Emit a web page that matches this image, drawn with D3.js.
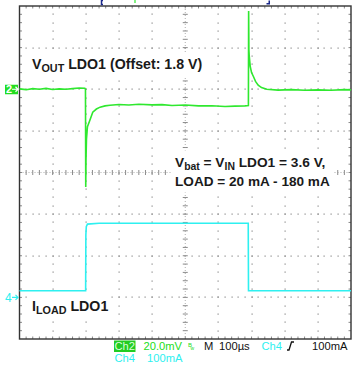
<!DOCTYPE html>
<html>
<head>
<meta charset="utf-8">
<script src="https://cdn.jsdelivr.net/npm/d3@7"></script>
<style>
  body { margin: 0; background: #fff; }
  text { font-family: "Liberation Sans", Arial, sans-serif; }
</style>
</head>
<body>
<script>
// Ch2 (Vout LDO1, ac part around 1.8 V offset) - time in us, value in mV
var vout_time = [0, 20, 40, 60, 80, 100, 120, 140, 160, 180, 197, 199, 199.8, 200.6, 202, 205, 212, 221, 232, 243, 258, 273,
                 300, 330, 360, 400, 430, 460, 500, 540, 580, 620, 650, 680, 690.5,
                 691.2, 692, 693, 696, 700, 706, 712, 720, 730, 746, 780, 820, 860, 900, 940, 980, 1000];
var vout_mv   = [0.2, -0.2, 0.3, 0.0, 0.4, -0.1, 0.2, 0.0, 0.3, 0.6, 0.5, 0.0, -47, -34, -24, -18, -15, -11, -9.5, -8.6, -8.0, -7.7,
                 -7.3, -7.6, -7.2, -7.5, -7.4, -7.8, -7.6, -8.0, -7.9, -8.3, -8.1, -8.0, -7.8,
                 37.6, 19, 16, 11, 8, 6, 3.8, 2.0, 0.8, 0.0, -0.4, -0.2, -0.5, -0.3, -0.5, -0.2, -0.3];

// Ch4 (load current) - time in us, value in mA
var iload_time = [0, 199.5, 200.2, 201.5, 205, 240, 690, 690.8, 1000];
var iload_ma   = [16, 16, 150, 170, 176, 178, 178, 16, 16];

// scope settings
var time_per_div = 100;     // us
var ch2_per_div = 20;       // mV
var ch4_per_div = 100;      // mA
var ch2_pos = 2, ch4_pos = -3;   // divisions from screen center

function draw_scope() {
    var x_divs = 10, y_divs = 8, minor = 5;

    var width = 354, height = 371;
    var p_left = 19.5, p_right = 351, p_top = 6, p_bottom = 339;

    var green = '#2fe82f', cyan = '#2ef0f0';

    var svg = d3.select('body').append('svg').attr('width', width).attr('height', height);

    var x_scale = d3.scaleLinear().domain([0, x_divs * time_per_div]).range([p_left, p_right]);
    var div_scale = d3.scaleLinear().domain([-y_divs / 2, y_divs / 2]).range([p_bottom, p_top]);
    var xdiv_scale = d3.scaleLinear().domain([0, x_divs]).range([p_left, p_right]);

    // ---- graticule ----
    var grid = svg.append('g').attr('class', 'grid');
    var dots = [];
    // vertical dotted lines
    for (var i = 1; i < x_divs; i++) {
        if (i == x_divs / 2) continue;
        for (var k = 1; k < y_divs * minor; k++)
            dots.push([xdiv_scale(i), div_scale(-y_divs / 2 + k / minor)]);
    }
    // horizontal dotted lines
    for (var j = -y_divs / 2 + 1; j < y_divs / 2; j++) {
        if (j == 0) continue;
        for (var k = 1; k < x_divs * minor; k++)
            dots.push([xdiv_scale(k / minor), div_scale(j)]);
    }
    grid.selectAll('rect.dot').data(dots).enter().append('rect')
        .attr('class', 'dot')
        .attr('x', d => Math.round(d[0]) - 0.5).attr('y', d => Math.round(d[1]) - 0.5)
        .attr('width', 1.2).attr('height', 1.2).attr('fill', '#8a8a8a');

    // center axes with cross ticks, border ticks
    var cx = xdiv_scale(x_divs / 2), cy = div_scale(0);
    var ticks = [];
    for (var k = 1; k < x_divs * minor; k++) {
        var tx = xdiv_scale(k / minor);
        ticks.push([tx, cy - 2.5, tx, cy + 2.5]);
        ticks.push([tx, p_top, tx, p_top + 2.5]);
        ticks.push([tx, p_bottom - 2.5, tx, p_bottom]);
    }
    for (var k = 1; k < y_divs * minor; k++) {
        var ty = div_scale(-y_divs / 2 + k / minor);
        ticks.push([cx - 2.5, ty, cx + 2.5, ty]);
        ticks.push([p_left, ty, p_left + 2.5, ty]);
        ticks.push([p_right - 2.5, ty, p_right, ty]);
    }
    grid.selectAll('line.tick').data(ticks).enter().append('line')
        .attr('class', 'tick')
        .attr('x1', d => d[0]).attr('y1', d => d[1]).attr('x2', d => d[2]).attr('y2', d => d[3])
        .attr('stroke', '#8a8a8a').attr('stroke-width', 1);
    grid.append('line').attr('x1', p_left).attr('x2', p_right).attr('y1', cy).attr('y2', cy)
        .attr('stroke', '#9a9a9a').attr('stroke-width', 0.8).attr('stroke-dasharray', '1,2');
    grid.append('line').attr('x1', cx).attr('x2', cx).attr('y1', p_top).attr('y2', p_bottom)
        .attr('stroke', '#9a9a9a').attr('stroke-width', 0.8).attr('stroke-dasharray', '1,2');

    // ---- text labels (with white backing like the scope annotation) ----
    function label(g, x, y, parts, size) {
        var t = g.append('text').attr('x', x).attr('y', y)
            .style('font-size', size + 'px').style('font-weight', 'bold').attr('fill', '#1a1a1a');
        parts.forEach(function(p) {
            var s = t.append('tspan').text(p[0]);
            if (p[1] == 'sub') s.style('font-size', (size * 0.76) + 'px').attr('dy', 3);
            if (p[1] == 'up') s.attr('dy', -3);
        });
        return t;
    }
    function backing(g, nodes, pad) {
        var x0 = 1e9, y0 = 1e9, x1 = -1e9, y1 = -1e9;
        nodes.forEach(function(n) {
            var b = n.node().getBBox();
            x0 = Math.min(x0, b.x); y0 = Math.min(y0, b.y);
            x1 = Math.max(x1, b.x + b.width); y1 = Math.max(y1, b.y + b.height);
        });
        g.insert('rect', ':first-child').attr('x', x0 - pad).attr('y', y0 - pad)
            .attr('width', x1 - x0 + 2 * pad).attr('height', y1 - y0 + 2 * pad).attr('fill', '#fff');
    }

    var lab1 = svg.append('g');
    var t1 = label(lab1, 32, 69, [['V'], ['OUT', 'sub'], [' LDO1 (Offset: 1.8 V)', 'up']], 14.2);
    backing(lab1, [t1], 2);

    var lab2 = svg.append('g');
    var t2 = label(lab2, 175, 166.5, [['V'], ['bat', 'sub'], [' = V', 'up'], ['IN', 'sub'], [' LDO1 = 3.6 V,', 'up']], 13.7);
    var t3 = label(lab2, 175, 185.5, [['LOAD = 20 mA - 180 mA']], 13.6);
    backing(lab2, [t2, t3], 4);

    var lab3 = svg.append('g');
    var t4 = label(lab3, 32, 311, [['I'], ['LOAD', 'sub'], [' LDO1', 'up']], 14.2);
    backing(lab3, [t4], 2);

    // ---- border ----
    svg.append('rect').attr('x', p_left).attr('y', p_top).attr('width', p_right - p_left).attr('height', p_bottom - p_top)
        .attr('fill', 'none').attr('stroke', '#333').attr('stroke-width', 1.4);

    // ---- traces ----
    var vout_data = vout_time.map((t, i) => ({t: t, v: ch2_pos + vout_mv[i] / ch2_per_div}));
    var iload_data = iload_time.map((t, i) => ({t: t, v: ch4_pos + iload_ma[i] / ch4_per_div}));

    var line = d3.line().x(d => x_scale(d.t)).y(d => div_scale(d.v));

    svg.append('path').datum(iload_data).attr('d', line)
        .attr('fill', 'none').attr('stroke', cyan).attr('stroke-width', 1.6);
    svg.append('path').datum(vout_data).attr('d', line)
        .attr('fill', 'none').attr('stroke', green).attr('stroke-width', 1.6);

    // ---- channel ground markers ----
    var y2 = div_scale(ch2_pos), y4 = div_scale(ch4_pos);
    svg.append('rect').attr('x', 5).attr('y', y2 - 4.5).attr('width', 13).attr('height', 9.5).attr('fill', '#22dd22');
    svg.append('text').attr('x', 6).attr('y', y2 + 4).text('2').attr('fill', '#fff')
        .style('font-size', '11px').style('font-weight', 'bold');
    svg.append('path').attr('d', 'M12,' + y2 + 'H18M15.5,' + (y2 - 2.5) + 'L18,' + y2 + 'L15.5,' + (y2 + 2.5))
        .attr('stroke', '#fff').attr('stroke-width', 1.2).attr('fill', 'none');
    svg.append('text').attr('x', 5).attr('y', y4 + 5).text('4').attr('fill', cyan)
        .style('font-size', '12px');
    svg.append('path').attr('d', 'M12,' + y4 + 'H18M15.5,' + (y4 - 2.5) + 'L18,' + y4 + 'L15.5,' + (y4 + 2.5))
        .attr('stroke', cyan).attr('stroke-width', 1.2).attr('fill', 'none');

    // top markers (trigger position, etc.)
    svg.append('path').attr('d', 'M103,0.5H101.5V4.5H103').attr('stroke', '#1c2a8c').attr('stroke-width', 1.5).attr('fill', 'none');
    svg.append('line').attr('x1', 135).attr('x2', 135).attr('y1', 0).attr('y2', 3).attr('stroke', green).attr('stroke-width', 1.2);
    svg.append('path').attr('d', 'M266.5,4.5H270V0.5H268.5V3H266.5Z').attr('fill', '#1c2a8c');

    // ---- status readout ----
    var row1 = 349.6, row2 = 362.4;
    var readout = svg.append('g').style('font-size', '11.2px');
    readout.append('rect').attr('x', 114).attr('y', 340.5).attr('width', 21.5).attr('height', 11.5).attr('fill', '#22cc22');
    readout.append('text').attr('x', 114.5).attr('y', row1).text('Ch2').attr('fill', '#d8ffd8');
    readout.append('text').attr('x', 143.5).attr('y', row1).text('20.0mV').attr('fill', '#22dd22');
    readout.append('text').attr('x', 188).attr('y', 347).text('B').attr('fill', '#22dd22').style('font-size', '6px');
    readout.append('text').attr('x', 190.5).attr('y', row1).text('w').attr('fill', '#22dd22').style('font-size', '5px');
    readout.append('text').attr('x', 204).attr('y', row1).text('M').attr('fill', '#111');
    readout.append('text').attr('x', 219).attr('y', row1).text('100\u00b5s').attr('fill', '#111');
    readout.append('text').attr('x', 261.5).attr('y', row1).text('Ch4').attr('fill', cyan);
    readout.append('path').attr('d', 'M287,350H289L291.5,342H294').attr('stroke', '#111').attr('stroke-width', 1.3).attr('fill', 'none');
    readout.append('text').attr('x', 312).attr('y', row1).text('100mA').attr('fill', '#111');
    readout.append('text').attr('x', 114.5).attr('y', row2).text('Ch4').attr('fill', cyan);
    readout.append('text').attr('x', 147).attr('y', row2).text('100mA').attr('fill', cyan);
}

draw_scope();
</script>
</body>
</html>
